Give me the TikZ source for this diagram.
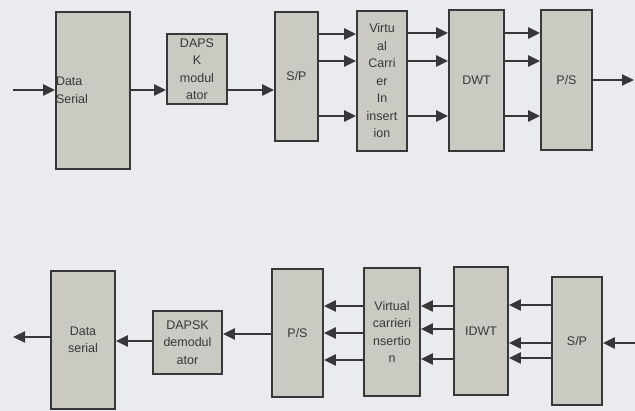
\documentclass[tikz,border=0pt]{standalone}
\usepackage{fontspec}
\setmainfont{Liberation Sans}
\usetikzlibrary{arrows.meta}
\definecolor{bg}{HTML}{E9EBEF}
\definecolor{boxfill}{HTML}{CACAC2}
\definecolor{ink}{HTML}{37373A}
\begin{document}
\begin{tikzpicture}[x=1pt,y=-1pt,
  blk/.style={draw=ink, line width=1.8pt, fill=boxfill, inner sep=0pt, align=center,
    font=\fontsize{12.5}{17.5}\selectfont, text=ink},
  arr/.style={draw=ink, line width=2.2pt, -{Triangle[length=12pt,width=11pt]}}]
\fill[bg] (0,0) rectangle (635,411);
\useasboundingbox (0,0) rectangle (635,411);
% top chain
\node[blk, minimum width=74pt, minimum height=157pt, text width=74pt, align=left] (ds1) at (93,90.5) {Data\\Serial};
\node[blk, minimum width=60pt, minimum height=70pt] (mod) at (197,69) {DAPS\\K\\modul\\ator};
\node[blk, minimum width=43pt, minimum height=129pt] (sp1) at (296.5,76.5) {S/P};
\node[blk, minimum width=50pt, minimum height=140pt] (vci1) at (382,81) {Virtu\\al\\Carri\\er\\In\\insert\\ion};
\node[blk, minimum width=55pt, minimum height=141pt] (dwt) at (476.5,80.5) {DWT};
\node[blk, minimum width=51pt, minimum height=140pt] (ps1) at (566.5,80) {P/S};
\coordinate (in1) at (13,90);
\coordinate (out1) at (634,80);
\draw[arr] (in1) -- (ds1.west |- in1);
\draw[arr] (ds1.east |- 0,90) -- (mod.west |- 0,90);
\draw[arr] (mod.east |- 0,90) -- (sp1.west |- 0,90);
\foreach \y in {34,61,116} {
  \draw[arr] (sp1.east |- 0,\y) -- (vci1.west |- 0,\y);
}
\foreach \y in {33,61,116} {
  \draw[arr] (vci1.east |- 0,\y) -- (dwt.west |- 0,\y);
  \draw[arr] (dwt.east |- 0,\y) -- (ps1.west |- 0,\y);
}
\draw[arr] (ps1.east |- out1) -- (out1);
% bottom chain
\node[blk, minimum width=64pt, minimum height=138pt] (ds2) at (83,340) {Data\\serial};
\node[blk, minimum width=69pt, minimum height=63pt] (dem) at (187.5,342.5) {DAPSK\\demodul\\ator};
\node[blk, minimum width=51pt, minimum height=128pt] (ps2) at (297.5,333) {P/S};
\node[blk, minimum width=56pt, minimum height=128pt] (vci2) at (392,332) {Virtual\\carrieri\\nsertio\\n};
\node[blk, minimum width=54pt, minimum height=128pt] (idwt) at (481,331) {IDWT};
\node[blk, minimum width=50pt, minimum height=128pt] (sp2) at (577,341) {S/P};
\coordinate (out2) at (13,337);
\coordinate (in2) at (635,343);
\draw[arr] (in2) -- (sp2.east |- in2);
\foreach \y in {305,343,358} {
  \draw[arr] (sp2.west |- 0,\y) -- (idwt.east |- 0,\y);
}
\foreach \y in {306,329,359} {
  \draw[arr] (idwt.west |- 0,\y) -- (vci2.east |- 0,\y);
}
\foreach \y in {306,333,360} {
  \draw[arr] (vci2.west |- 0,\y) -- (ps2.east |- 0,\y);
}
\draw[arr] (ps2.west |- 0,334) -- (dem.east |- 0,334);
\draw[arr] (dem.west |- 0,341) -- (ds2.east |- 0,341);
\draw[arr] (ds2.west |- out2) -- (out2);
\end{tikzpicture}
\end{document}
